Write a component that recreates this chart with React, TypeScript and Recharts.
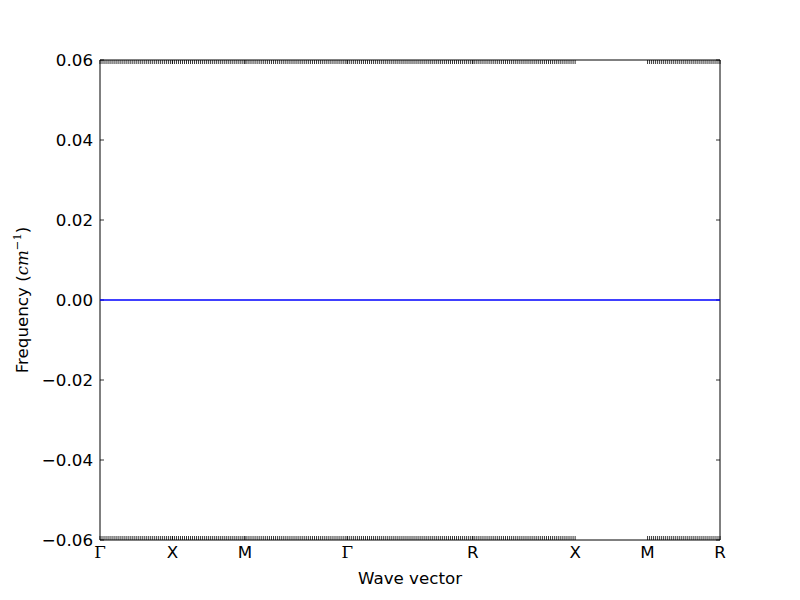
import { LineChart, Line, XAxis, YAxis, ReferenceLine, ReferenceArea, Customized } from 'recharts';

// high-symmetry path (simple cubic), cumulative distance along the path
const pathLabels = ['Γ', 'X', 'M', 'Γ', 'R', 'X', 'M', 'R'];
const pathPos = [0, 0.5, 1.0, 1.7071, 2.5731, 3.2802, 3.7802, 4.2802];
// band frequency at each high-symmetry point (all modes flat at zero)
const bandFreq = [0, 0, 0, 0, 0, 0, 0, 0];

// sampled segments of the path (start/end label index) and q-points per segment
const segStart = [0, 1, 2, 3, 4, 6];
const segEnd = [1, 2, 3, 4, 5, 7];
const segPoints = [36, 36, 50, 62, 50, 36];

const yTicks = [-0.06, -0.04, -0.02, 0, 0.02, 0.04, 0.06];

const X_MAX = 4.2802;
const Y_MIN = -0.06;
const Y_MAX = 0.06;
const Q_TICK = 0.001; // ~4px in y units
const Y_TICK = 0.0276; // ~4px in x units

const data = pathPos.map((d, i) => ({ d, f: bandFreq[i] }));

const qPoints: number[] = [];
segStart.forEach((s, i) => {
  const a = pathPos[s];
  const b = pathPos[segEnd[i]];
  const n = segPoints[i];
  for (let k = 0; k <= n; k++) qPoints.push(a + ((b - a) * k) / n);
});

const sans = 'DejaVu Sans, sans-serif';
const serif = 'DejaVu Serif, serif';

function PathTick(props: any) {
  const { x, y, index } = props;
  const name = pathLabels[index];
  return (
    <text x={x} y={y + 18} textAnchor="middle" fontSize={16.7} fill="#000"
      fontFamily={name === 'Γ' ? serif : sans}>
      {name}
    </text>
  );
}

function FreqTick(props: any) {
  const { y, payload } = props;
  const v = payload.value as number;
  const s = (v < 0 ? '\u2212' : '') + Math.abs(v).toFixed(2);
  return (
    <text x={93} y={y + 6} textAnchor="end" fontSize={16.7} fill="#000" fontFamily={sans}>
      {s}
    </text>
  );
}

function Titles() {
  return (
    <g>
      <text x={410} y={584} textAnchor="middle" fontSize={16.7} fill="#000" fontFamily={sans}>
        Wave vector
      </text>
      <text x={28} y={300} textAnchor="middle" fontSize={16.7} fill="#000" fontFamily={sans}
        transform="rotate(-90, 28, 300)">
        Frequency (
        <tspan fontFamily={serif} fontStyle="italic">cm</tspan>
        <tspan fontFamily={serif} fontSize={11.5} dy={-7}>{'\u2212'}1</tspan>
        <tspan dy={7}>)</tspan>
      </text>
    </g>
  );
}

export default function App() {
  return (
    <div style={{ position: 'absolute', left: 0, top: 0, background: '#fff' }}>
      <LineChart width={800} height={600} data={data}
        margin={{ top: 60, right: 80, bottom: 0, left: 0 }}>
        <XAxis dataKey="d" type="number" domain={[0, X_MAX]} ticks={pathPos} interval={0}
          tick={<PathTick />} tickLine={false} axisLine={false} tickSize={0} tickMargin={0}
          height={60} allowDataOverflow />
        <YAxis type="number" domain={[Y_MIN, Y_MAX]} ticks={yTicks} interval={0}
          tick={<FreqTick />} tickLine={false} axisLine={false} width={100} allowDataOverflow />
        {qPoints.map((q, i) => (
          <ReferenceLine key={'qb' + i} segment={[{ x: q, y: Y_MIN }, { x: q, y: Y_MIN + Q_TICK }]}
            stroke="#000" strokeWidth={0.8} />
        ))}
        {qPoints.map((q, i) => (
          <ReferenceLine key={'qt' + i} segment={[{ x: q, y: Y_MAX - Q_TICK }, { x: q, y: Y_MAX }]}
            stroke="#000" strokeWidth={0.8} />
        ))}
        {yTicks.map((v, i) => (
          <ReferenceLine key={'yl' + i} segment={[{ x: 0, y: v }, { x: Y_TICK, y: v }]}
            stroke="#000" strokeWidth={0.8} />
        ))}
        {yTicks.map((v, i) => (
          <ReferenceLine key={'yr' + i} segment={[{ x: X_MAX - Y_TICK, y: v }, { x: X_MAX, y: v }]}
            stroke="#000" strokeWidth={0.8} />
        ))}
        <Line type="linear" dataKey="f" stroke="#0000ff" strokeWidth={1.4} dot={false}
          isAnimationActive={false} />
        <ReferenceArea x1={0} x2={X_MAX} y1={Y_MIN} y2={Y_MAX} fill="none" fillOpacity={0}
          stroke="#000" strokeWidth={1} />
        <Customized component={Titles} />
      </LineChart>
    </div>
  );
}
